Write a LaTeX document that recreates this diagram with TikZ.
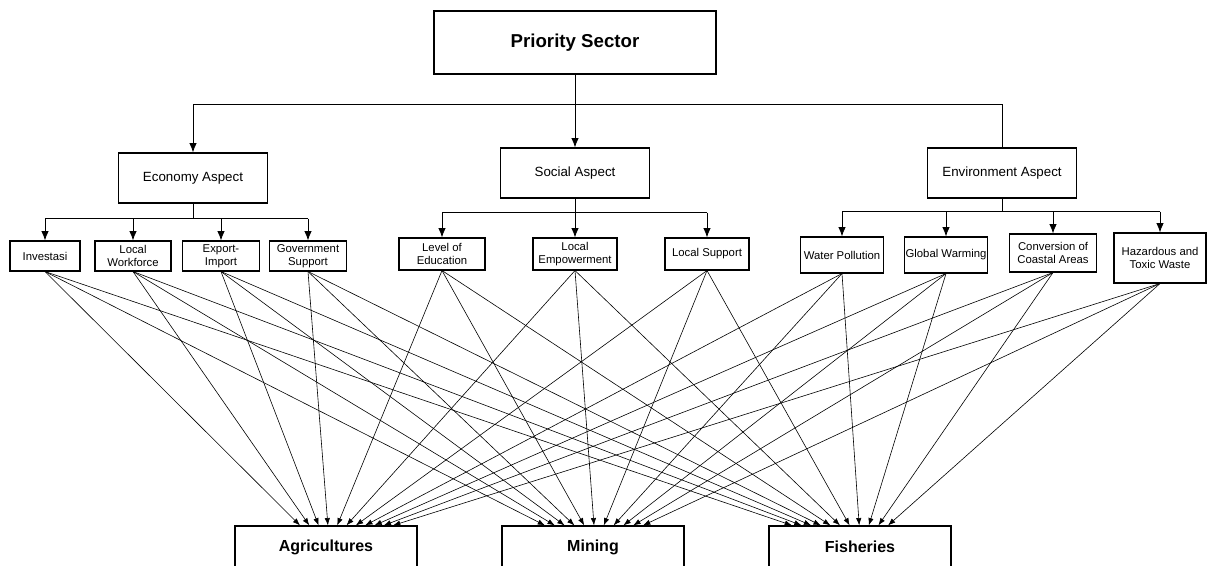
\documentclass[tikz,border=0pt]{standalone}
\usepackage{fontspec}
\setmainfont{Liberation Sans}
\usepackage{tikz}
\usetikzlibrary{arrows.meta, positioning, calc}

\tikzset{
    sectorbox/.style={draw, line width=0.9pt, align=center, inner sep=0pt},
    aspectbox/.style={draw, line width=0.8pt, align=center, inner sep=0pt,
        minimum width=111.75pt, minimum height=37.5pt, font=\fontsize{10}{12}\selectfont},
    factorbox/.style={draw, line width=0.8pt, align=center, inner sep=1pt,
        minimum height=22.5pt, font=\fontsize{8.5}{9.5}\selectfont},
    targetbox/.style={draw, line width=0.9pt, inner sep=0pt,
        minimum width=136.5pt, minimum height=31.5pt, font=\bfseries\fontsize{12}{14}\selectfont},
    tree/.style={line width=0.6pt, >={Latex[length=7pt,width=5.5pt]}},
    link/.style={->, line width=0.45pt},
}

\begin{document}
\begin{tikzpicture}[x=0.75pt, y=-0.75pt, >={Latex[length=5.5pt,width=4pt]}]
                \clip (0,0) rectangle (1226,565);

                \node[sectorbox, minimum width=211.5pt, minimum height=47.25pt,
                      font=\bfseries\fontsize{14}{16}\selectfont] (ps) at (575,42.5) {Priority Sector};

                \node[aspectbox] (eco) at (193,178) {Economy Aspect};
                \node[aspectbox] (soc) at (575,173) {Social Aspect};
                \node[aspectbox] (env) at (1002,173) {Environment Aspect};

                \node[factorbox, minimum width=52.5pt] (inv) at (45,256) {Investasi};
                \node[factorbox, minimum width=57pt] (wrk) at (133,256) {Local\\Workforce};
                \node[factorbox, minimum width=57.75pt] (exi) at (221,256) {Export-\\Import};
                \node[factorbox, minimum width=57.75pt] (gov) at (308,256) {Government\\Support};

                \node[factorbox, minimum width=64.5pt, minimum height=24pt] (edu) at (442,254) {Level of\\Education};
                \node[factorbox, minimum width=63pt, minimum height=24pt] (emp) at (575,254) {Local\\Empowerment};
                \node[factorbox, minimum width=63pt, minimum height=24pt] (sup) at (707,254) {Local Support};

                \node[factorbox, minimum width=62.25pt, minimum height=27pt] (wat) at (842,255) {Water Pollution};
                \node[factorbox, minimum width=60pt, minimum height=27pt] (glo) at (946,255) {Global Warming};
                \node[factorbox, minimum width=65.25pt, minimum height=28.5pt] (con) at (1053,253) {Conversion of\\Coastal Areas};
                \node[factorbox, minimum width=69pt, minimum height=37.5pt] (haz) at (1160,258) {Hazardous and\\Toxic Waste};

                \node[targetbox] (agr) at (326,547) {Agricultures};
                \node[targetbox] (min) at (593,547) {Mining};
                \node[targetbox] (fis) at (860,547) {Fisheries};

                \coordinate (busL) at (193,104);
                \coordinate (busR) at (1002,104);
                \draw[tree, ->] (ps.south) -- (soc.north);
                \draw[tree] (busL) -- (busR);
                \draw[tree, ->] (busL) -- (eco.north);
                \draw[tree] (busR) -- (env.north);

                \path (eco.south) ++(0,15) coordinate (ej);
                \path (soc.south) ++(0,14) coordinate (sj);
                \path (env.south) ++(0,13) coordinate (nj);
                \draw[tree] (eco.south) -- (ej);
                \draw[tree] (soc.south) -- (sj);
                \draw[tree] (env.south) -- (nj);
                \draw[tree] (inv.north |- ej) -- (gov.north |- ej);
                \draw[tree] (edu.north |- sj) -- (sup.north |- sj);
                \draw[tree] (wat.north |- nj) -- (haz.north |- nj);
                \foreach \n in {inv,wrk,exi,gov}
                    \draw[tree, ->] (\n.north |- ej) -- (\n.north);
                \foreach \n in {edu,emp,sup}
                    \draw[tree, ->] (\n.north |- sj) -- (\n.north);
                \foreach \n in {wat,glo,con,haz}
                    \draw[tree, ->] (\n.north |- nj) -- (\n.north);

                \foreach \s [count=\i from 0] in {inv,wrk,exi,gov,edu,emp,sup,wat,glo,con,haz} {
                    \pgfmathsetmacro\oa{(-26+9.3*\i)*0.75}
                    \pgfmathsetmacro\om{(-48+9.8*\i)*0.75}
                    \pgfmathsetmacro\of{(-68+9.6*\i)*0.75}
                    \draw[link] (\s.south) -- ([xshift=\oa pt]agr.north);
                    \draw[link] (\s.south) -- ([xshift=\om pt]min.north);
                    \draw[link] (\s.south) -- ([xshift=\of pt]fis.north);
                }
            \end{tikzpicture}
\end{document}
